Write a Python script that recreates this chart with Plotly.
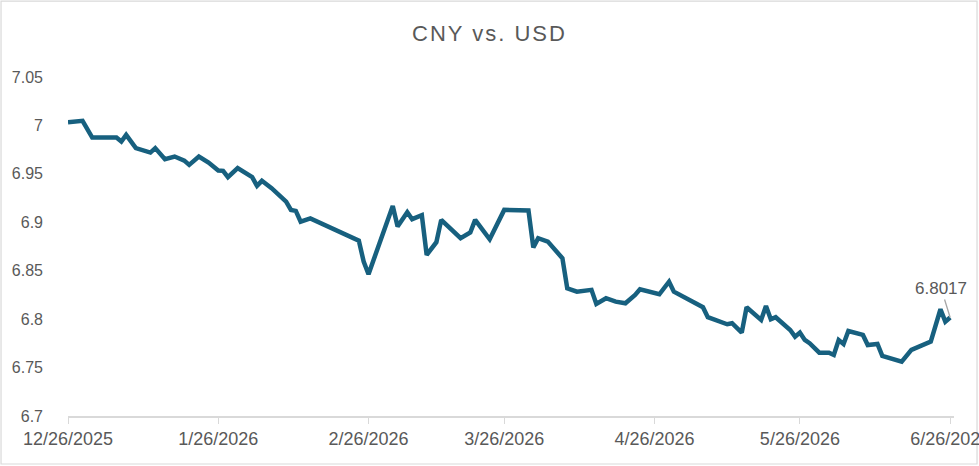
import plotly.graph_objects as go

dates = [
    "2025-12-26", "2025-12-29", "2025-12-31", "2026-01-05", "2026-01-06", "2026-01-07",
    "2026-01-09", "2026-01-12", "2026-01-13", "2026-01-15", "2026-01-17", "2026-01-19",
    "2026-01-20", "2026-01-22", "2026-01-24", "2026-01-26", "2026-01-27", "2026-01-28",
    "2026-01-30", "2026-02-02", "2026-02-03", "2026-02-04", "2026-02-06", "2026-02-09",
    "2026-02-10", "2026-02-11", "2026-02-12", "2026-02-14", "2026-02-24", "2026-02-25",
    "2026-02-26", "2026-03-03", "2026-03-04", "2026-03-06", "2026-03-07", "2026-03-09",
    "2026-03-10", "2026-03-12", "2026-03-13", "2026-03-17", "2026-03-19", "2026-03-20",
    "2026-03-23", "2026-03-26", "2026-03-31", "2026-04-01", "2026-04-02", "2026-04-04",
    "2026-04-07", "2026-04-08", "2026-04-10", "2026-04-13", "2026-04-14", "2026-04-16",
    "2026-04-18", "2026-04-20", "2026-04-22", "2026-04-23", "2026-04-27", "2026-04-29",
    "2026-04-30", "2026-05-06", "2026-05-07", "2026-05-11", "2026-05-12", "2026-05-14",
    "2026-05-15", "2026-05-18", "2026-05-19", "2026-05-20", "2026-05-21", "2026-05-24",
    "2026-05-25", "2026-05-26", "2026-05-27", "2026-05-28", "2026-05-30", "2026-06-01",
    "2026-06-02", "2026-06-03", "2026-06-04", "2026-06-05", "2026-06-08", "2026-06-09",
    "2026-06-11", "2026-06-12", "2026-06-16", "2026-06-18", "2026-06-22", "2026-06-24",
    "2026-06-25", "2026-06-26",
]
cny_per_usd = [
    7.0034, 7.0048, 6.9875, 6.9875, 6.9834, 6.9903,
    6.9766, 6.9720, 6.9766, 6.9652, 6.9679, 6.9637,
    6.9593, 6.9679, 6.9617, 6.9534, 6.9531, 6.9466,
    6.9559, 6.9466, 6.9376, 6.9428, 6.9352, 6.9214,
    6.9128, 6.9118, 6.9007, 6.9040, 6.8811, 6.8594,
    6.8464, 6.9169, 6.8956, 6.9104, 6.9032, 6.9073,
    6.8663, 6.8794, 6.9025, 6.8836, 6.8894, 6.9025,
    6.8825, 6.9128, 6.9121, 6.8739, 6.8836, 6.8801,
    6.8629, 6.8319, 6.8284, 6.8302, 6.8157, 6.8216,
    6.8181, 6.8164, 6.8250, 6.8309, 6.8257, 6.8387,
    6.8284, 6.8123, 6.8020, 6.7947, 6.7958, 6.7861,
    6.8123, 6.7992, 6.8136, 6.7999, 6.8020, 6.7888,
    6.7819, 6.7861, 6.7785, 6.7751, 6.7654, 6.7654,
    6.7630, 6.7785, 6.7744, 6.7878, 6.7837, 6.7733,
    6.7744, 6.7620, 6.7561, 6.7682, 6.7768, 6.8102,
    6.7974, 6.8017,
]

x_tick_vals = ["2025-12-26", "2026-01-26", "2026-02-26", "2026-03-26",
               "2026-04-26", "2026-05-26", "2026-06-26"]
x_tick_text = ["12/26/2025", "1/26/2026", "2/26/2026", "3/26/2026",
               "4/26/2026", "5/26/2026", "6/26/2026"]
y_tick_vals = [6.7, 6.75, 6.8, 6.85, 6.9, 6.95, 7.0, 7.05]
y_tick_text = ["6.7", "6.75", "6.8", "6.85", "6.9", "6.95", "7", "7.05"]

title_text = "CNY vs. USD"
last_label = "6.8017"

FONT = "Liberation Sans, Arial, sans-serif"
GRAY = "#595959"

fig = go.Figure()
fig.add_trace(go.Scatter(
    x=dates, y=cny_per_usd, mode="lines",
    line=dict(color="#17607f", width=4.5, shape="linear"),
    hoverinfo="x+y", showlegend=False,
))

fig.add_annotation(
    x=dates[-1], y=cny_per_usd[-1], text=last_label,
    showarrow=True, arrowhead=0, arrowwidth=1.3, arrowcolor="#a6a6a6",
    ax=-9, ay=-29, standoff=0,
    font=dict(family=FONT, size=17, color=GRAY),
)

fig.update_layout(
    width=979, height=466,
    margin=dict(l=68, r=25, t=77, b=50, autoexpand=False),
    paper_bgcolor="white", plot_bgcolor="white",
    title=dict(text='<span style="letter-spacing:2px">' + title_text + '</span>',
               x=0.5, xanchor="center", y=0.928, yanchor="middle",
               font=dict(family=FONT, size=22, color=GRAY)),
    font=dict(family=FONT, size=16, color=GRAY),
    xaxis=dict(
        type="date", range=["2025-12-26", "2026-06-26 19:00"],
        tickmode="array", tickvals=x_tick_vals, ticktext=x_tick_text,
        showgrid=False, zeroline=False, automargin=False,
        showline=True, linecolor="#d9d9d9", linewidth=1.5,
        ticks="outside", ticklen=6, tickcolor="#d9d9d9", tickwidth=1,
        ticklabeloverflow="allow",
        tickfont=dict(family=FONT, size=18, color=GRAY),
    ),
    yaxis=dict(
        range=[6.7, 7.05], automargin=False,
        tickmode="array", tickvals=y_tick_vals, ticktext=y_tick_text,
        showgrid=False, zeroline=False, showline=False, ticks="",
        ticklabelstandoff=24,
        tickfont=dict(family=FONT, size=16, color=GRAY),
    ),
)

fig.add_shape(
    type="rect", xref="paper", yref="paper",
    x0=-0.0756, x1=1.026, y0=-0.1416, y1=1.224,
    line=dict(color="#d9d9d9", width=1.2), fillcolor="rgba(0,0,0,0)", layer="below",
)

fig.write_html("out.html")
